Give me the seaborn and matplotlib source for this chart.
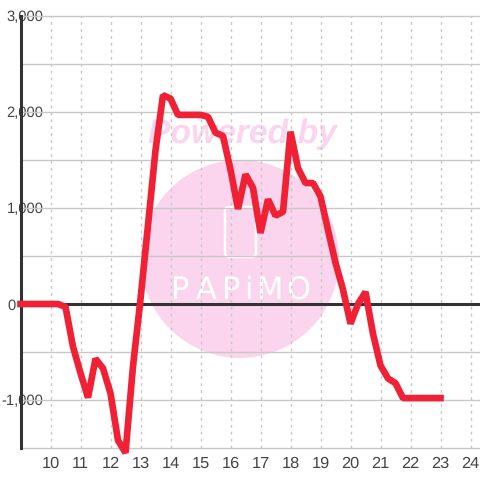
import numpy as np
import pandas as pd
import matplotlib as mpl
mpl.use('Agg')
import matplotlib.pyplot as plt
import seaborn as sns
from matplotlib.patches import Circle, FancyBboxPatch

# quarter hour readings, hour 9 to hour 23
hours = [9 + i * 0.25 for i in range(57)]
values = [0, 0, 0, 0, 0, 0, -30, -445, -720, -975, -570, -670, -930, -1420, -1550,
          -650, 50, 820, 1600, 2175, 2140, 1970, 1970, 1970, 1970, 1950, 1785, 1750,
          1400, 990, 1350, 1210, 740, 1090, 920, 960, 1795, 1415, 1260, 1260, 1120,
          770, 430, 150, -205, 0, 125, -310, -640, -775, -825, -980,
          -980, -980, -980, -980, -980]
y_ticks = [-1000, 0, 1000, 2000, 3000]
y_labels = ['-1,000', '0', '1,000', '2,000', '3,000']
x_ticks = list(range(10, 25))
logo_letters = ['P', 'A', 'P', 'i', 'M', 'O']
logo_x = [180, 206, 231, 248, 270, 298]

sns.set_theme(style='white')
plt.rcParams['font.family'] = ['Liberation Sans', 'DejaVu Sans']
plt.rcParams['text.hinting'] = 'no_hinting'

W = 480
fig = plt.figure(figsize=(4.8, 4.8), dpi=100, facecolor='white')

# watermark goes behind the chart
bg = fig.add_axes([0, 0, 1, 1], zorder=0)
bg.set_xlim(0, W)
bg.set_ylim(W, 0)
bg.axis('off')
pink = '#fbd5ed'
bg.add_patch(Circle((240, 259), 99, fc=pink, ec='none'))
bg.text(242, 134, 'Powered by', color=pink, fontsize=24.2, fontweight='bold',
        fontstyle='italic', ha='center', va='center')
bg.add_patch(FancyBboxPatch((225, 207), 31, 50, boxstyle='round,pad=0,rounding_size=4',
                            fc='none', ec='white', lw=1.8))
for letter, px in zip(logo_letters, logo_x):
    bg.text(px, 290, letter, color='white', fontsize=22, ha='center', va='center',
            family='DejaVu Sans')

ax = fig.add_axes([20.5 / W, 32 / W, 459.5 / W, 432 / W], zorder=1)
ax.patch.set_alpha(0)
df = pd.DataFrame({'hour': hours, 'value': values})

for tick in [-1500, -500, 500, 1500, 2500] + y_ticks:
    ax.axhline(tick, color='#c8c8c8', lw=1, zorder=1, clip_on=False)
for tick in x_ticks:
    ax.axvline(tick, color='#c8c8c8', lw=1, ls=(0, (2, 3)), zorder=1)
ax.axhline(0, color='#333333', lw=2.2, zorder=2)

sns.lineplot(data=df, x='hour', y='value', color='#f02035', lw=4.8, ax=ax, zorder=3,
             solid_joinstyle='bevel', solid_capstyle='projecting', clip_on=False)

ax.set_xlim(9, 9 + 459.5 / 30)
ax.set_ylim(-1500, 3000)
ax.set_xlabel('')
ax.set_ylabel('')
for side in ['top', 'right', 'bottom']:
    ax.spines[side].set_visible(False)
ax.spines['left'].set_color('#333333')
ax.spines['left'].set_linewidth(2.2)
ax.set_xticks(x_ticks)
ax.tick_params(axis='x', length=0, pad=6, labelsize=11.8, labelcolor='#444444')
ax.set_yticks(y_ticks)
ax.set_yticklabels(y_labels)
ax.tick_params(axis='y', length=0, labelsize=10.6, labelcolor='#444444', pad=-16.5)
for lab in ax.get_yticklabels():
    lab.set_bbox(dict(fc='white', ec='none', pad=1))
    lab.set_zorder(10)
# the 0 label sits left of the axis line
ax.yaxis.get_major_ticks()[1].set_pad(3.2)
ax.get_yticklabels()[1].set_bbox(None)

fig.savefig('out.png', dpi=100, facecolor='white')
